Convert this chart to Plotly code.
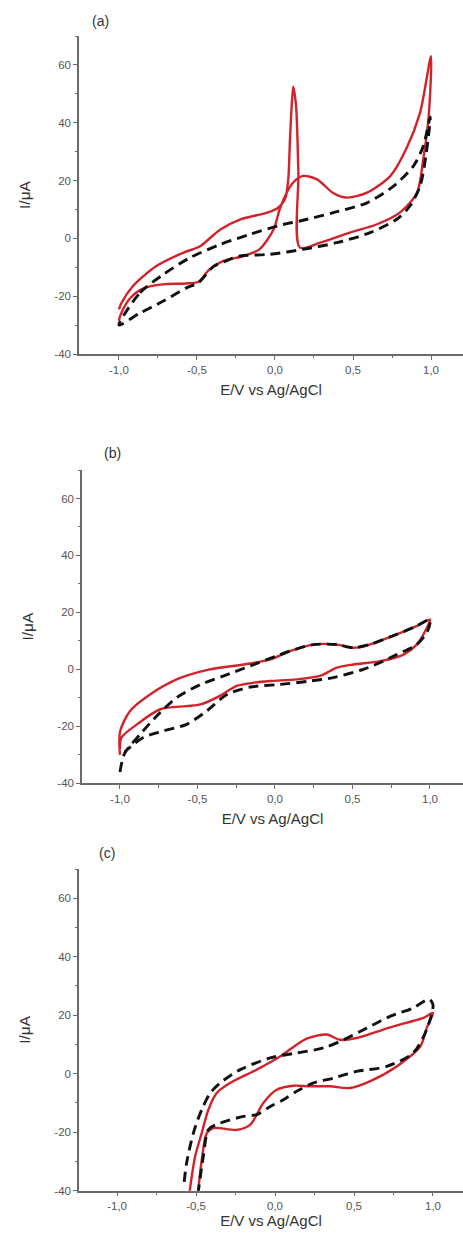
import plotly.graph_objects as go

# ---------------- data ----------------
# Panel (a)
a_red_x = [-1.0, -0.99, -0.93, -0.84, -0.72, -0.57, -0.49, -0.42, -0.33, -0.2, -0.1, -0.01, 0.03,
           0.075, 0.12, 0.18, 0.27, 0.37, 0.46, 0.59, 0.74, 0.84, 0.93, 1.0,
           0.985, 0.95, 0.91, 0.8, 0.65, 0.48, 0.29, 0.16,
           0.15, 0.135, 0.117, 0.107, 0.096, 0.085, 0.064,
           0.02, -0.05, -0.22, -0.35, -0.48, -0.59, -0.76, -0.91, -0.985, -1.0]
a_red_y = [-28.5, -26.5, -20.8, -17.2, -15.9, -15.6, -15.0, -10.7, -7.8, -6.1, -3.8, 3.0, 10.0,
           15.8, 19.5, 21.6, 20.4, 15.8, 14.1, 15.8, 21.6, 30.8, 43.5, 63.0,
           42.3, 27.3, 15.8, 8.9, 4.8, 2.0, -1.5, -3.2,
           22.7, 45.8, 52.5, 45.8, 34.0, 20.4, 13.5,
           10.6, 8.9, 6.6, 3.1, -2.7, -5.0, -9.6, -16.5, -22.5, -24.6]
a_blk_x = [-1.0, -0.865, -0.716, -0.545, -0.35, -0.16, 0.053, 0.16, 0.374, 0.59, 0.76, 0.887, 0.95, 0.995,
           0.97, 0.93, 0.865, 0.78, 0.61, 0.395, 0.18, -0.03, -0.224, -0.3, -0.395, -0.49, -0.57,
           -0.716, -0.87, -1.0]
a_blk_y = [-30.0, -18.8, -12.5, -6.7, -2.1, 1.4, 4.8, 6.0, 8.9, 12.3, 18.1, 25.0, 31.9, 42.0,
           29.6, 18.1, 11.2, 6.6, 2.0, -1.5, -3.8, -5.5, -6.1, -7.5, -9.8, -15.3, -17.2,
           -21.7, -26.0, -30.0]

# Panel (b)
b_red_x = [-1.0, -1.0, -0.935, -0.806, -0.634, -0.42, -0.2, -0.03, 0.097, 0.247, 0.4, 0.505, 0.61,
           0.785, 0.914, 1.0,
           0.98, 0.914, 0.83, 0.68, 0.505, 0.4, 0.29, 0.14, -0.03, -0.14, -0.247, -0.355, -0.48,
           -0.57, -0.74, -0.89, -0.99, -1.0]
b_red_y = [-30.0, -22.0, -14.6, -8.8, -3.5, 0.0, 1.7, 3.5, 6.4, 8.7, 8.7, 7.6, 8.7,
           12.3, 15.2, 17.5,
           14.6, 8.7, 5.2, 2.9, 1.7, 0.6, -2.3, -3.5, -4.1, -4.7, -5.8, -9.3, -12.3,
           -12.9, -14.0, -19.3, -23.9, -28.0]
b_blk_x = [-1.0, -0.97, -0.87, -0.763, -0.634, -0.48, -0.33, -0.16, 0.01, 0.097, 0.247, 0.4, 0.505,
           0.61, 0.785, 0.914, 1.0,
           0.985, 0.914, 0.785, 0.7, 0.57, 0.376, 0.226, 0.03, -0.16, -0.31, -0.44, -0.57, -0.72,
           -0.85, -0.97]
b_blk_y = [-36.0, -29.5, -22.8, -16.4, -9.9, -5.3, -2.3, 1.2, 4.7, 6.4, 8.7, 8.7, 7.6,
           8.7, 12.3, 15.2, 17.5,
           13.5, 8.7, 5.2, 2.9, 0.0, -2.9, -4.1, -5.3, -6.2, -8.8, -14.6, -19.3, -21.6,
           -23.9, -29.0]

# Panel (c)
c_red_x = [-0.545, -0.506, -0.464, -0.422, -0.369, -0.285, -0.116, 0.032, 0.2, 0.327, 0.41, 0.517,
           0.685, 0.83, 0.94, 1.0,
           0.96, 0.92, 0.77, 0.6, 0.475, 0.348, 0.22, 0.116, 0.01, -0.074, -0.158, -0.243, -0.39,
           -0.432, -0.464, -0.49]
c_red_y = [-42.0, -28.3, -20.3, -12.3, -6.6, -3.2, 1.4, 5.9, 12.0, 13.4, 11.6, 12.2,
           15.1, 17.4, 19.1, 20.8,
           15.6, 9.4, 2.5, -2.6, -4.9, -4.3, -4.3, -4.1, -5.5, -10.0, -17.5, -19.2, -18.6,
           -20.3, -29.5, -42.0]
c_blk_x = [-0.575, -0.56, -0.517, -0.464, -0.41, -0.348, -0.22, -0.03, 0.137, 0.306, 0.433, 0.58,
           0.728, 0.875, 0.975, 1.0,
           0.96, 0.875, 0.707, 0.517, 0.37, 0.24, 0.137, 0.053, -0.03, -0.116, -0.2, -0.348,
           -0.42, -0.454, -0.49]
c_blk_y = [-37.0, -30.6, -20.3, -12.3, -6.6, -3.2, 1.4, 5.4, 7.1, 8.8, 11.6, 15.6,
           19.6, 22.5, 25.5, 23.6,
           15.1, 7.1, 2.5, 0.8, -1.5, -3.2, -6.0, -8.9, -11.2, -14.0, -14.6, -16.9,
           -19.0, -28.3, -42.0]

x_tick_vals = [-1.0, -0.5, 0.0, 0.5, 1.0]
x_tick_text = ["-1,0", "-0,5", "0,0", "0,5", "1,0"]
y_tick_vals = [-40, -20, 0, 20, 40, 60]
y_tick_text = ["-40", "-20", "0", "20", "40", "60"]
x_minor_vals = [-0.75, -0.25, 0.25, 0.75]
y_minor_vals = [-30, -10, 10, 30, 50, 70]
panel_labels = ["(a)", "(b)", "(c)"]
x_title = "E/V vs Ag/AgCl"
y_title = "I/μA"

# ---------------- figure ----------------
W, H = 463, 1238
RED = "#d2232a"
AX = "#6a6a6a"
FONT = "Liberation Sans, Arial, sans-serif"

panels = [
    dict(red=(a_red_x, a_red_y), blk=(a_blk_x, a_blk_y),
         xdom=[79 / W, 1.0], xr=[-1.256, 1.205], ydom=[1 - 354 / H, 1 - 36 / H],
         lab=(100 / W, 1 - 21 / H), xstand=10),
    dict(red=(b_red_x, b_red_y), blk=(b_blk_x, b_blk_y),
         xdom=[82 / W, 1.0], xr=[-1.245, 1.213], ydom=[1 - 783.3 / H, 1 - 470 / H],
         lab=(112 / W, 1 - 453 / H), xstand=10),
    dict(red=(c_red_x, c_red_y), blk=(c_blk_x, c_blk_y),
         xdom=[79 / W, 1.0], xr=[-1.241, 1.19], ydom=[1 - 1190.7 / H, 1 - 869 / H],
         lab=(107 / W, 1 - 853 / H), xstand=2),
]

fig = go.Figure()
layout = dict(
    width=W, height=H,
    margin=dict(l=0, r=0, t=0, b=0, autoexpand=False),
    paper_bgcolor="white", plot_bgcolor="white",
    showlegend=False,
    font=dict(family=FONT, color="#444"),
    annotations=[],
)

for i, p in enumerate(panels, start=1):
    xa = "x" if i == 1 else f"x{i}"
    ya = "y" if i == 1 else f"y{i}"
    fig.add_trace(go.Scatter(
        x=p["red"][0], y=p["red"][1], mode="lines", xaxis=xa, yaxis=ya,
        line=dict(color=RED, width=2.4, shape="spline", smoothing=0.8),
        hoverinfo="skip"))
    fig.add_trace(go.Scatter(
        x=p["blk"][0], y=p["blk"][1], mode="lines", xaxis=xa, yaxis=ya,
        line=dict(color="#111111", width=2.9, dash="10px,6px", shape="spline", smoothing=0.8),
        hoverinfo="skip"))

    xkey = "xaxis" if i == 1 else f"xaxis{i}"
    ykey = "yaxis" if i == 1 else f"yaxis{i}"
    layout[xkey] = dict(
        domain=p["xdom"], range=p["xr"], anchor=ya, automargin=False,
        showline=True, linecolor=AX, linewidth=1.5,
        showgrid=False, zeroline=False,
        ticks="outside", ticklen=4, tickwidth=1.2, tickcolor=AX,
        tickvals=x_tick_vals, ticktext=x_tick_text,
        tickfont=dict(size=11.5, color="#555", family=FONT),
        minor=dict(tickvals=x_minor_vals, ticks="outside", ticklen=2.5,
                   tickwidth=1, tickcolor=AX, showgrid=False),
        title=dict(text=x_title, font=dict(size=15, color="#333", family=FONT),
                   standoff=p["xstand"]),
        fixedrange=True,
    )
    layout[ykey] = dict(
        domain=p["ydom"], range=[-40, 70], anchor=xa, automargin=False,
        showline=True, linecolor=AX, linewidth=1.5,
        showgrid=False, zeroline=False,
        ticks="outside", ticklen=4, tickwidth=1.2, tickcolor=AX,
        tickvals=y_tick_vals, ticktext=y_tick_text,
        tickfont=dict(size=11.5, color="#555", family=FONT),
        minor=dict(tickvals=y_minor_vals, ticks="outside", ticklen=2.5,
                   tickwidth=1, tickcolor=AX, showgrid=False),
        title=dict(text=y_title, font=dict(size=15.5, color="#333", family=FONT), standoff=20),
        fixedrange=True,
    )
    layout["annotations"].append(dict(
        text=panel_labels[i - 1], xref="paper", yref="paper",
        x=p["lab"][0], y=p["lab"][1], xanchor="center", yanchor="middle",
        showarrow=False, font=dict(size=14, color="#333", family=FONT)))

fig.update_layout(**layout)
fig.write_html(
    "out.html",
    config={"displayModeBar": False},
    post_script="document.body.style.margin='0';document.body.style.padding='0';",
)
